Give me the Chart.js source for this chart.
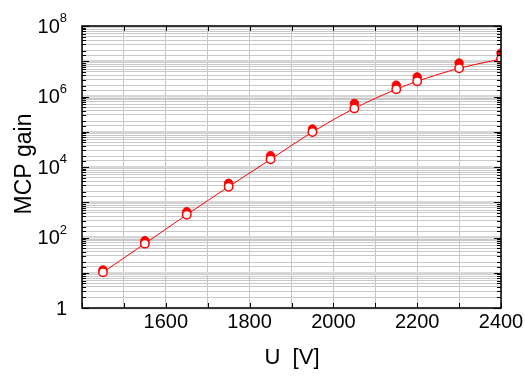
<!DOCTYPE html>
<html>
<head>
<meta charset="utf-8">
<script src="https://cdn.jsdelivr.net/npm/chart.js@4/dist/chart.umd.min.js"></script>
<style>
  body { margin: 0; background: #fff; }
  #wrap { width: 525px; height: 376px; }
</style>
</head>
<body>
<div id="wrap"><canvas id="gainChart"></canvas></div>
<script>
// voltage U [V]
const voltages = [1450, 1550, 1650, 1750, 1850, 1950, 2050, 2150, 2200, 2300, 2400];
// filled circles
const gainFilled = [12, 81, 540, 3450, 21000, 120000, 640000, 2100000, 3600000, 8900000, 17000000];
// open circles (the line follows these)
const gainOpen = [10.3, 67, 443, 2760, 16500, 98000, 460000, 1600000, 2700000, 6300000, 11600000];

const xTickLabels = [1600, 1800, 2000, 2200, 2400];
const yTickExponents = [0, 2, 4, 6, 8];

const FONT = "'Liberation Sans', Arial, sans-serif";

function isDecade(v) {
  const e = Math.log10(v);
  return Math.abs(e - Math.round(e)) < 1e-9;
}

// frame, inward ticks, labels and titles
const axisDecor = {
  id: "axisDecor",
  afterDraw(chart) {
    const ctx = chart.ctx;
    const a = chart.chartArea;
    const xs = chart.scales.x;
    const ys = chart.scales.y;
    ctx.save();

    ctx.strokeStyle = "#000";
    ctx.lineWidth = 1;
    ctx.beginPath();
    xs.ticks.forEach(t => {
      const px = Math.round(xs.getPixelForValue(t.value)) + 0.5;
      ctx.moveTo(px, a.bottom); ctx.lineTo(px, a.bottom - 5);
      ctx.moveTo(px, a.top); ctx.lineTo(px, a.top + 5);
    });
    ys.ticks.forEach(t => {
      const py = Math.round(ys.getPixelForValue(t.value)) + 0.5;
      const len = isDecade(t.value) ? 7 : 4;
      ctx.moveTo(a.left, py); ctx.lineTo(a.left + len, py);
      ctx.moveTo(a.right, py); ctx.lineTo(a.right - len, py);
    });
    ctx.stroke();

    ctx.lineWidth = 1.5;
    ctx.strokeRect(a.left, a.top, a.right - a.left, a.bottom - a.top);

    ctx.fillStyle = "#000";
    ctx.font = "20px " + FONT;
    ctx.textAlign = "center";
    ctx.textBaseline = "middle";
    xTickLabels.forEach(v => {
      ctx.fillText(String(v), xs.getPixelForValue(v), 322);
    });

    const right = 67;
    yTickExponents.forEach(e => {
      const py = ys.getPixelForValue(Math.pow(10, e));
      if (e === 0) {
        ctx.font = "20px " + FONT;
        ctx.textAlign = "right";
        ctx.textBaseline = "middle";
        ctx.fillText("1", right, py + 1);
        return;
      }
      ctx.font = "13px " + FONT;
      const supW = ctx.measureText(String(e)).width;
      ctx.textAlign = "right";
      ctx.textBaseline = "alphabetic";
      ctx.fillText(String(e), right, py - 4);
      ctx.font = "20px " + FONT;
      ctx.textBaseline = "middle";
      ctx.fillText("10", right - supW, py + 1);
    });

    ctx.font = "22px " + FONT;
    ctx.textAlign = "center";
    ctx.textBaseline = "middle";
    ctx.fillText("U  [V]", 292, 358);

    ctx.font = "23px " + FONT;
    ctx.textBaseline = "alphabetic";
    ctx.translate(31, 164);
    ctx.rotate(-Math.PI / 2);
    ctx.fillText("MCP gain", 0, 0);
    ctx.restore();
  }
};

const chart = new Chart(document.getElementById("gainChart"), {
  type: "line",
  data: {
    datasets: [
      {
        label: "open",
        data: voltages.map((x, i) => ({ x: x, y: gainOpen[i] })),
        borderColor: "#ff0000",
        borderWidth: 1,
        backgroundColor: "#ffffff",
        pointBackgroundColor: "#ffffff",
        pointBorderColor: "#ff0000",
        pointBorderWidth: 1.5,
        pointRadius: 4.2,
        showLine: true,
        cubicInterpolationMode: "monotone"
      },
      {
        label: "filled",
        data: voltages.map((x, i) => ({ x: x, y: gainFilled[i] })),
        showLine: false,
        pointBackgroundColor: "#ff0000",
        pointBorderColor: "#ff0000",
        pointBorderWidth: 1,
        pointRadius: 4.2
      }
    ]
  },
  options: {
    responsive: true,
    maintainAspectRatio: false,
    animation: false,
    events: [],
    layout: { padding: { left: 0, top: 26, right: 24, bottom: 0 } },
    plugins: { legend: { display: false }, tooltip: { enabled: false } },
    scales: {
      x: {
        type: "linear",
        min: 1400,
        max: 2400,
        ticks: { stepSize: 100, display: false, autoSkip: false },
        grid: { color: "#c4c4c4", lineWidth: 1, drawTicks: false },
        border: { display: false },
        afterFit: s => { s.height = 68; }
      },
      y: {
        type: "logarithmic",
        min: 1,
        max: 1e8,
        ticks: { display: false, autoSkip: false },
        grid: {
          drawTicks: false,
          color: c => isDecade(c.tick.value) ? "#d6d6d6" : "#c8c8c8",
          lineWidth: c => isDecade(c.tick.value) ? 2.5 : 1
        },
        border: { display: false },
        afterFit: s => { s.width = 82; }
      }
    }
  },
  plugins: [axisDecor]
});
</script>
</body>
</html>
